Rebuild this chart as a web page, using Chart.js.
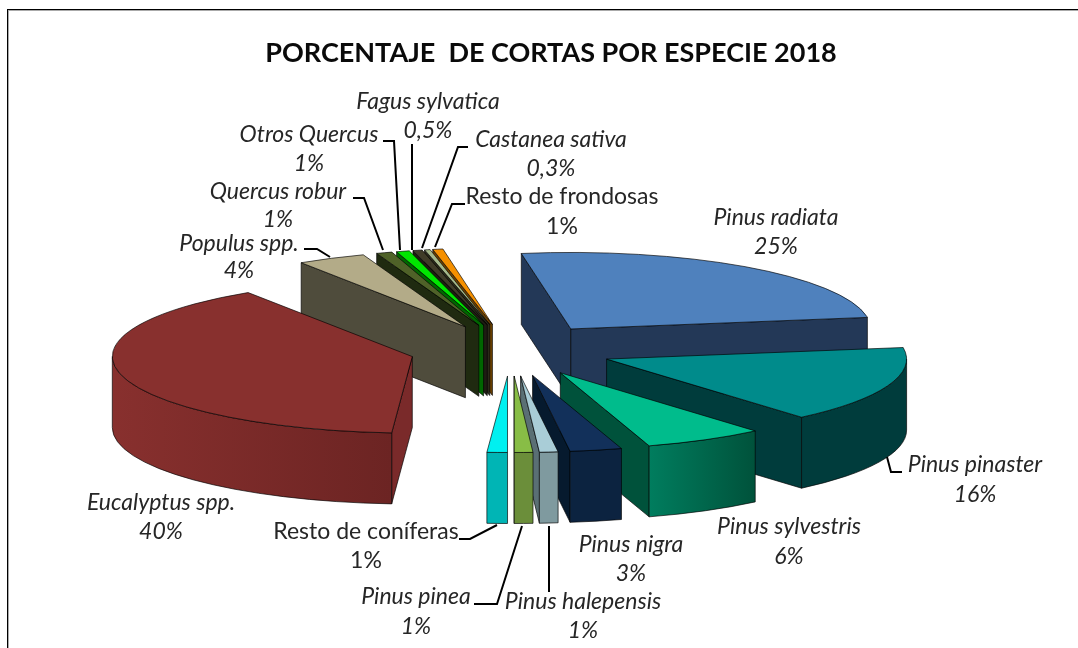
<!DOCTYPE html>
<html>
<head>
<meta charset="utf-8">
<script src="https://cdn.jsdelivr.net/npm/chart.js@4"></script>
<style>
  html, body { margin: 0; padding: 0; background: #fff; }
  #wrap { width: 1078px; height: 648px; }
</style>
</head>
<body>
<div id="wrap"><canvas id="pie3d" width="1078" height="648"></canvas></div>
<script>
const species = [
  "Pinus radiata", "Pinus pinaster", "Pinus sylvestris", "Pinus nigra",
  "Pinus halepensis", "Pinus pinea", "Resto de coníferas", "Eucalyptus spp.",
  "Populus spp.", "Quercus robur", "Otros Quercus", "Fagus sylvatica",
  "Castanea sativa", "Resto de frondosas"
];
// slice sizes (the printed labels are rounded)
const shares = [25.3, 16.2, 6.49, 2.8, 1.0, 1.0, 1.1, 39.8, 3.7, 0.85, 0.7, 0.5, 0.3, 0.55];
const percentLabels = ["25%", "16%", "6%", "3%", "1%", "1%", "1%", "40%", "4%", "1%", "1%", "0,5%", "0,3%", "1%"];
const titleText = "PORCENTAJE  DE CORTAS POR ESPECIE 2018";

// top face, radial walls, curved wall (left and right colour)
const sliceColors = [
  ["#4f81bd", "#233857", "#233857", "#233857"],
  ["#008b8b", "#003c3c", "#003c3c", "#003c3c"],
  ["#00bc8c", "#00523b", "#007d5e", "#00523b"],
  ["#12305a", "#061a2e", "#0c2340", "#0c2340"],
  ["#a9cdd7", "#5a6f74", "#7f9a9f", "#7f9a9f"],
  ["#88bd46", "#6b8e3a", "#6b8e3a", "#6b8e3a"],
  ["#00f0f0", "#00b5b5", "#00b5b5", "#00b5b5"],
  ["#88302e", "#7a2a2a", "#88302e", "#6c2423"],
  ["#b3ab88", "#4f4c3c", "#4f4c3c", "#4f4c3c"],
  ["#4f6228", "#1f2a10", "#1f2a10", "#1f2a10"],
  ["#00e600", "#006600", "#006600", "#006600"],
  ["#403c28", "#1e1c12", "#1e1c12", "#1e1c12"],
  ["#a5b88a", "#2a2a1a", "#2a2a1a", "#2a2a1a"],
  ["#f59000", "#6b4000", "#6b4000", "#6b4000"]
];

// label centre x, name y, percent y, and leader line
const labelPlaces = [
  { x: 776, y: 218, y2: 247 },
  { x: 975, y: 465, y2: 495, line: [[902, 472], [891, 472], [887, 457]] },
  { x: 789, y: 527, y2: 557 },
  { x: 631, y: 545, y2: 574 },
  { x: 583, y: 602, y2: 631, line: [[549, 592], [549, 526]] },
  { x: 416, y: 597, y2: 627, line: [[474, 604], [497, 604], [522, 526]] },
  { x: 366, y: 532, y2: 561, plain: true, line: [[459, 539], [470, 539], [497, 525]] },
  { x: 161, y: 503, y2: 532 },
  { x: 239, y: 244, y2: 271, line: [[304, 249], [317, 249], [330, 257]] },
  { x: 278, y: 192, y2: 220, line: [[353, 198], [364, 198], [383, 250]] },
  { x: 309, y: 135, y2: 164, line: [[383, 141], [394, 141], [400, 250]] },
  { x: 428, y: 102, y2: 131, line: [[412, 144], [412, 250]] },
  { x: 551, y: 140, y2: 169, line: [[468, 147], [458, 147], [422, 248]] },
  { x: 562, y: 197, y2: 227, plain: true, line: [[465, 204], [452, 204], [435, 247]] }
];

const tilt = 0.255;
const depth = 71;
const explode = 102;
const labelFont = "Lato, sans-serif";

function drawSlice(ctx, arc, colors) {
  const k = tilt;
  const a0 = arc.startAngle, a1 = arc.endAngle, r = arc.outerRadius;
  const mid = (a0 + a1) / 2;
  const ox = arc.x + Math.cos(mid) * explode;
  const oy = arc.y + Math.sin(mid) * explode * k;
  const px = (a) => ox + Math.cos(a) * r;
  const py = (a) => oy + Math.sin(a) * r * k;

  ctx.lineWidth = 1;
  ctx.strokeStyle = "rgba(0,0,0,0.65)";

  const radialWall = (a) => {
    ctx.beginPath();
    ctx.moveTo(ox, oy);
    ctx.lineTo(px(a), py(a));
    ctx.lineTo(px(a), py(a) + depth);
    ctx.lineTo(ox, oy + depth);
    ctx.closePath();
    ctx.fillStyle = colors[1];
    ctx.fill();
    ctx.stroke();
  };
  // only walls facing the viewer
  if (Math.sin(a0 - Math.PI / 2) > 0) radialWall(a0);
  if (Math.cos(a1) > 0) radialWall(a1);

  for (const base of [-2 * Math.PI, 0, 2 * Math.PI]) {
    const from = Math.max(a0, base), to = Math.min(a1, base + Math.PI);
    if (to <= from) continue;
    const grad = ctx.createLinearGradient(px(from), 0, px(to), 0);
    const flip = px(from) > px(to);
    grad.addColorStop(0, flip ? colors[3] : colors[2]);
    grad.addColorStop(1, flip ? colors[2] : colors[3]);
    ctx.beginPath();
    ctx.ellipse(ox, oy, r, r * k, 0, from, to);
    ctx.ellipse(ox, oy + depth, r, r * k, 0, to, from, true);
    ctx.closePath();
    ctx.fillStyle = grad;
    ctx.fill();
    ctx.stroke();
  }

  // top face: the library's own arc, squashed and moved out
  ctx.save();
  ctx.translate(ox, oy);
  ctx.scale(1, k);
  ctx.translate(-arc.x, -arc.y);
  arc.draw(ctx);
  ctx.restore();

  ctx.beginPath();
  ctx.moveTo(ox, oy);
  ctx.ellipse(ox, oy, r, r * k, 0, a0, a1);
  ctx.closePath();
  ctx.stroke();
}

const pie3dPlugin = {
  id: "pie3d",
  beforeDatasetDraw() {
    return false;
  },
  afterDatasetsDraw(chart) {
    const ctx = chart.ctx;
    const arcs = chart.getDatasetMeta(0).data;
    const order = arcs.map((arc, i) => i).sort((a, b) => {
      const mid = (el) => (el.startAngle + el.endAngle) / 2;
      return Math.sin(mid(arcs[a])) - Math.sin(mid(arcs[b]));
    });
    order.forEach((i) => drawSlice(ctx, arcs[i], sliceColors[i]));

    // frame
    ctx.fillStyle = "#aaa";
    ctx.fillRect(8, 10, 1070, 1);
    ctx.fillRect(8, 10, 1, 638);
    ctx.fillStyle = "#000";
    ctx.fillRect(7, 9, 1071, 1);
    ctx.fillRect(7, 9, 1, 639);

    // title
    ctx.fillStyle = "#0a0a0a";
    ctx.textAlign = "center";
    ctx.textBaseline = "middle";
    ctx.font = "bold 27px Lato, sans-serif";
    ctx.fillText(titleText, 551, 53);

    // labels and leader lines
    ctx.lineWidth = 2;
    ctx.strokeStyle = "#000";
    labelPlaces.forEach((place, i) => {
      if (place.line) {
        ctx.beginPath();
        place.line.forEach((p, j) => (j ? ctx.lineTo(p[0], p[1]) : ctx.moveTo(p[0], p[1])));
        ctx.stroke();
      }
      ctx.fillStyle = "#262626";
      ctx.font = (place.plain ? "" : "italic ") + "23px " + labelFont;
      ctx.fillText(species[i], place.x, place.y);
      ctx.fillText(percentLabels[i], place.x, place.y2);
    });
  }
};

new Chart(document.getElementById("pie3d"), {
  type: "pie",
  data: {
    labels: species,
    datasets: [{
      data: shares,
      backgroundColor: sliceColors.map((c) => c[0]),
      borderWidth: 0
    }]
  },
  options: {
    responsive: false,
    animation: false,
    events: [],
    radius: 300,
    rotation: -9.5,
    layout: { padding: { left: 0, right: 56, top: 52, bottom: 0 } },
    plugins: { legend: { display: false }, tooltip: { enabled: false } }
  },
  plugins: [pie3dPlugin]
});
</script>
</body>
</html>
